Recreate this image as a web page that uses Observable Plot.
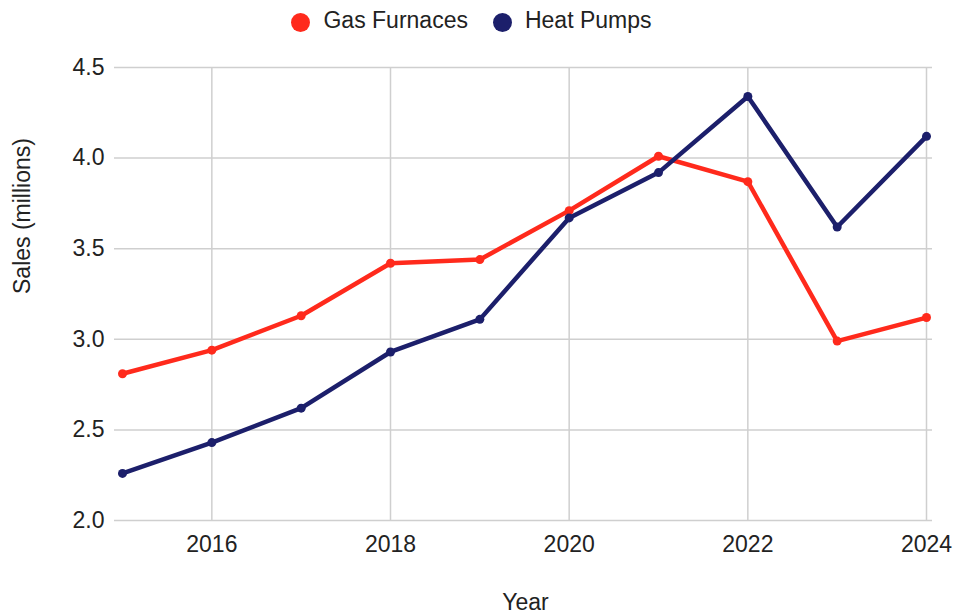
<!DOCTYPE html>
<html>
<head>
<meta charset="utf-8">
<script src="https://cdn.jsdelivr.net/npm/d3@7"></script>
<script src="https://cdn.jsdelivr.net/npm/@observablehq/plot@0.6"></script>
<style>
  html, body { margin: 0; padding: 0; background: #fff; }
  body { width: 953px; height: 615px; overflow: hidden; font-family: "Liberation Sans", Arial, sans-serif; color: #222; }
  #legend { height: 40px; display: flex; align-items: center; justify-content: center; font-size: 23px; padding-right: 10px; box-sizing: border-box; }
  .item { display: flex; align-items: center; }
  .sw { width: 19px; height: 19px; border-radius: 50%; margin-right: 13px; margin-top: 4px; }
  .item + .item { margin-left: 25px; }
  #chart svg { display: block; }
</style>
</head>
<body>
<div id="legend"></div>
<div id="chart"></div>
<script>
const years = [2015, 2016, 2017, 2018, 2019, 2020, 2021, 2022, 2023, 2024];
const gasFurnaces = [2.81, 2.94, 3.13, 3.42, 3.44, 3.71, 4.01, 3.87, 2.99, 3.12];
const heatPumps = [2.26, 2.43, 2.62, 2.93, 3.11, 3.67, 3.92, 4.34, 3.62, 4.12];
const seriesNames = ["Gas Furnaces", "Heat Pumps"];
const seriesColors = ["#ff2a1c", "#1c1f6b"];
const xTicks = [2016, 2018, 2020, 2022, 2024];
const yTicks = [2.0, 2.5, 3.0, 3.5, 4.0, 4.5];

const rows = [];
years.forEach((y, i) => rows.push({year: y, value: gasFurnaces[i], series: seriesNames[0]}));
years.forEach((y, i) => rows.push({year: y, value: heatPumps[i], series: seriesNames[1]}));

const legend = document.getElementById("legend");
seriesNames.forEach((n, i) => {
  const it = document.createElement("div");
  it.className = "item";
  const sw = document.createElement("span");
  sw.className = "sw";
  sw.style.background = seriesColors[i];
  const t = document.createElement("span");
  t.textContent = n;
  it.appendChild(sw); it.appendChild(t);
  legend.appendChild(it);
});

const chart = Plot.plot({
  width: 953,
  height: 575,
  marginLeft: 114,
  marginRight: 21,
  marginTop: 27,
  marginBottom: 95,
  style: {fontFamily: "Liberation Sans, Arial, sans-serif", fontSize: "23px", color: "#222", background: "#fff"},
  x: {domain: [2015, 2024], insetLeft: 8, insetRight: 6},
  y: {domain: [2, 4.5]},
  color: {domain: seriesNames, range: seriesColors},
  marks: [
    Plot.gridY(yTicks, {stroke: "#cfcfcf", strokeOpacity: 1, strokeWidth: 1.5}),
    Plot.gridX(xTicks, {stroke: "#cfcfcf", strokeOpacity: 1, strokeWidth: 1.5}),
    Plot.axisX(xTicks, {tickSize: 0, tickPadding: 15, tickFormat: d3.format("d"), label: null}),
    Plot.axisY(yTicks, {tickSize: 0, tickPadding: 10, tickFormat: d3.format(".1f"), label: null}),
    Plot.text(["Year"], {frameAnchor: "bottom", dy: 82, dx: 2, lineAnchor: "middle", fontSize: 23, fill: "#222"}),
    Plot.text(["Sales (millions)"], {frameAnchor: "left", rotate: -90, dx: -92, dy: 0, lineAnchor: "middle", fontSize: 23, fill: "#222"}),
    Plot.line(rows, {x: "year", y: "value", z: "series", stroke: "series", strokeWidth: 4.5, strokeLinejoin: "round"}),
    Plot.dot(rows, {x: "year", y: "value", fill: "series", r: 4.5})
  ]
});
document.getElementById("chart").appendChild(chart);
</script>
</body>
</html>
